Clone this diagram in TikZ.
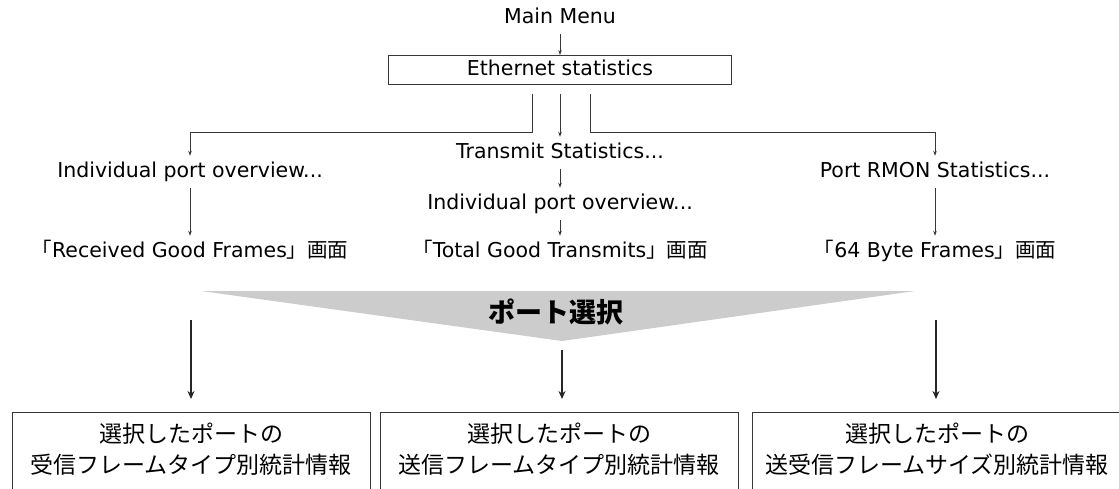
\documentclass[tikz,border=0pt]{standalone}
\usepackage{fontspec}
\setmainfont{DejaVu Sans}
\newfontfamily\jp{Noto Sans CJK JP}
\usepackage{xcolor}
\usepackage{tikz}
\usetikzlibrary{arrows.meta}
\definecolor{linegray}{RGB}{55,55,55}
\definecolor{wedgegray}{RGB}{204,204,204}
\newcommand{\gamen}[1]{{\jp 「}#1{\jp 」画面}}

\begin{document}
\begin{tikzpicture}[x=1pt, y=-1pt]
            \tikzset{txt/.style = {font=\fontsize{20.5}{24}\selectfont, text height=14pt, text depth=4pt, inner xsep=0pt, inner ysep=7pt}}
            \tikzset{smalledge/.style = {draw=linegray, line width=0.8pt, -{Stealth[length=5pt, width=3.5pt]}}}
            \tikzset{bigedge/.style = {draw=black!85, line width=1.5pt, -{Stealth[length=8pt, width=7pt]}, shorten >=13pt}}
            \tikzset{result/.style = {draw=linegray, line width=1pt, anchor=north, minimum height=120pt}}
            \tikzset{restxt/.style = {font=\jp\fontsize{23}{31}\selectfont, align=center, inner sep=0pt}}

            \clip (0,0) rectangle (1119,488);

            \node[txt] (menu) at (560,18) {Main Menu};
            \node[txt, draw=linegray, line width=0.8pt, inner ysep=0pt, minimum width=343pt, minimum height=29pt] (eth) at (560,70) {Ethernet statistics};

            \node[txt] (indl) at (190,172) {Individual port overview...};
            \node[txt] (trans) at (560,153) {Transmit Statistics...};
            \node[txt] (rmon) at (935,172) {Port RMON Statistics...};
            \node[txt] (indm) at (560,204) {Individual port overview...};

            \node[txt] (recv) at (190,252) {\gamen{Received Good Frames}};
            \node[txt] (total) at (560,252) {\gamen{Total Good Transmits}};
            \node[txt] (bytes) at (935,252) {\gamen{64 Byte Frames}};

            \coordinate (lk) at (532,132);
            \coordinate (rk) at (590,132);

            % menu arrows
            \draw[smalledge] (menu) -- (eth);
            \draw[smalledge] ([yshift=-9pt]eth.south -| lk) -- (lk) -| (indl);
            \draw[smalledge] ([yshift=-9pt]eth.south) -- (trans);
            \draw[smalledge] ([yshift=-9pt]eth.south -| rk) -- (rk) -| (rmon);
            \draw[smalledge] (trans) -- (indm);
            \draw[smalledge] (indm) -- (total);
            \draw[smalledge] (indl) -- (recv);
            \draw[smalledge] (rmon) -- (bytes);

            % port selection
            \fill[wedgegray] (201,291) -- (915,291) -- (562,341) -- cycle;
            \node[font=\jp\bfseries\fontsize{27}{30}\selectfont, inner sep=0pt] (sel) at (556,312) {ポート選択};

            \node[result, minimum width=358pt] (boxl) at (191,412) {};
            \node[result, minimum width=358pt] (boxm) at (559,412) {};
            \node[result, minimum width=370pt] (boxr) at (937,412) {};
            \node[restxt] (txtl) at (191,449) {選択したポートの\\受信フレームタイプ別統計情報};
            \node[restxt] (txtm) at (559,449) {選択したポートの\\送信フレームタイプ別統計情報};
            \node[restxt] (txtr) at (937,449) {選択したポートの\\送受信フレームサイズ別統計情報};

            \coordinate (sl) at (191,320);
            \coordinate (sm) at (562,350);
            \coordinate (sr) at (936,320);

            % selection arrows
            \draw[bigedge] (sl) -- (sl |- boxl.north);
            \draw[bigedge] (sm) -- (sm |- boxm.north);
            \draw[bigedge] (sr) -- (sr |- boxr.north);

        \end{tikzpicture}
\end{document}
